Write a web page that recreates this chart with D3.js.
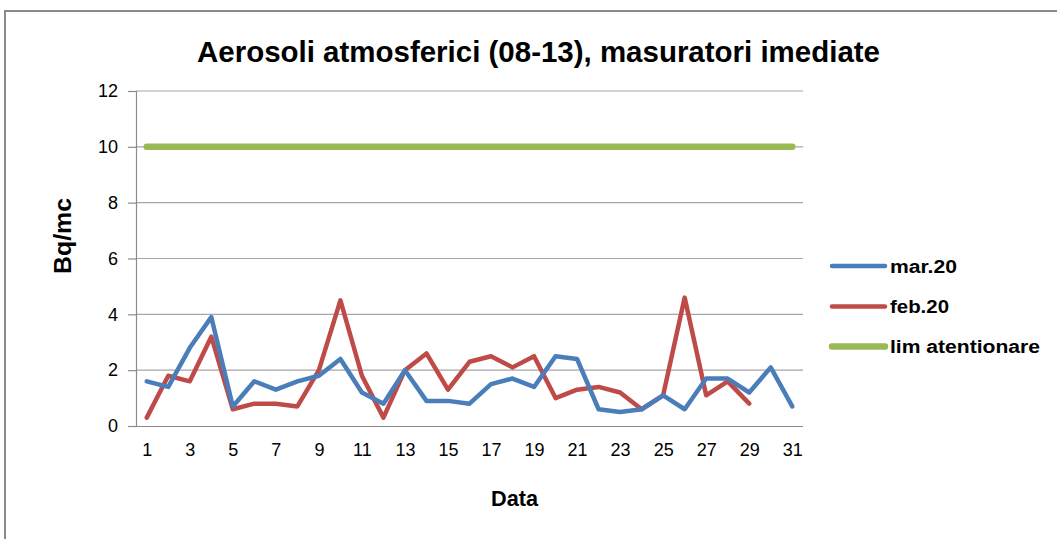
<!DOCTYPE html>
<html>
<head>
<meta charset="utf-8">
<script src="https://cdn.jsdelivr.net/npm/d3@7"></script>
<style>
  html, body { margin: 0; padding: 0; background: #fff; }
  svg { display: block; font-family: "Liberation Sans", Arial, sans-serif; }
</style>
</head>
<body>
<svg id="chart" width="1057" height="539"></svg>
<script>
const categories = d3.range(1, 32);
const tickLabels = [1,3,5,7,9,11,13,15,17,19,21,23,25,27,29,31];
const yTicks = [0,2,4,6,8,10,12];
const mar20 = [1.6,1.4,2.8,3.9,0.7,1.6,1.3,1.6,1.8,2.4,1.2,0.8,2.0,0.9,0.9,0.8,1.5,1.7,1.4,2.5,2.4,0.6,0.5,0.6,1.1,0.6,1.7,1.7,1.2,2.1,0.7];
const feb20 = [0.3,1.8,1.6,3.2,0.6,0.8,0.8,0.7,2.0,4.5,1.8,0.3,2.0,2.6,1.3,2.3,2.5,2.1,2.5,1.0,1.3,1.4,1.2,0.6,1.1,4.6,1.1,1.6,0.8];
const limAtentionare = categories.map(() => 10);
const seriesNames = ["mar.20", "feb.20", "lim atentionare"];
const seriesColors = ["#4a7ebb", "#be4b48", "#98b954"];

(function () {
const svg = d3.select("#chart");

// outer border
svg.append("rect").attr("x", 5).attr("y", 11).attr("width", 1070).attr("height", 560)
  .attr("fill", "none").attr("stroke", "#8a8a8a").attr("stroke-width", 2);

const pLeft = 136, pRight = 803, pTop = 91, pBottom = 426;
const x = d3.scalePoint().domain(categories).range([pLeft, pRight]).padding(0.5);
const y = d3.scaleLinear().domain([0, 12]).range([pBottom, pTop]);

// gridlines
svg.append("g").selectAll("line").data(yTicks.filter(d => d > 0)).join("line")
  .attr("x1", pLeft).attr("x2", pRight)
  .attr("y1", d => y(d)).attr("y2", d => y(d))
  .attr("stroke", "#a6a6a6").attr("stroke-width", 1.2);

// y axis
const yAxis = svg.append("g").attr("transform", `translate(${pLeft},0)`)
  .call(d3.axisLeft(y).tickValues(yTicks).tickSize(8).tickPadding(10).tickFormat(d3.format("d")));
yAxis.select(".domain").attr("stroke", "#8c8c8c").attr("stroke-width", 1.2);
yAxis.selectAll(".tick line").attr("stroke", "#8c8c8c").attr("stroke-width", 1.2);
yAxis.selectAll("text").attr("font-size", 18).attr("fill", "#000")
  .attr("font-family", "'Liberation Sans', Arial, sans-serif");

// x axis
const xAxis = svg.append("g").attr("transform", `translate(0,${pBottom})`)
  .call(d3.axisBottom(x).tickValues(tickLabels).tickSize(0).tickPadding(17));
xAxis.select(".domain").attr("d", `M${pLeft - 8},0.5H${pRight}`).attr("stroke", "#8c8c8c").attr("stroke-width", 1.2);
xAxis.selectAll("text").attr("font-size", 18).attr("fill", "#000")
  .attr("font-family", "'Liberation Sans', Arial, sans-serif");

// lines
const line = d3.line().x((d, i) => x(categories[i])).y(d => y(d));
const allSeries = [mar20, feb20, limAtentionare];
const widths = [4.5, 4.5, 6.5];
[2, 1, 0].forEach(k => {
  svg.append("path").datum(allSeries[k])
    .attr("d", line)
    .attr("fill", "none")
    .attr("stroke", seriesColors[k])
    .attr("stroke-width", widths[k])
    .attr("stroke-linejoin", "round")
    .attr("stroke-linecap", "round");
});

// title
svg.append("text").attr("x", 197).attr("y", 62)
  .attr("font-size", 30).attr("font-weight", "bold").attr("fill", "#000")
  .attr("textLength", 683).attr("lengthAdjust", "spacingAndGlyphs")
  .text("Aerosoli atmosferici (08-13), masuratori imediate");

// axis titles
svg.append("text").attr("x", 491).attr("y", 506)
  .attr("font-size", 22).attr("font-weight", "bold")
  .attr("textLength", 47).attr("lengthAdjust", "spacingAndGlyphs").text("Data");
svg.append("text").attr("transform", "translate(71,274) rotate(-90)")
  .attr("font-size", 23).attr("font-weight", "bold")
  .attr("textLength", 76).attr("lengthAdjust", "spacingAndGlyphs").text("Bq/mc");

// legend
const legendY = [266, 306.5, 346.5];
const legendW = [67, 59, 150];
const lg = svg.append("g");
seriesNames.forEach((name, i) => {
  lg.append("line").attr("x1", 832).attr("x2", 885).attr("y1", legendY[i]).attr("y2", legendY[i])
    .attr("stroke", seriesColors[i]).attr("stroke-width", widths[i]).attr("stroke-linecap", "round");
  lg.append("text").attr("x", 890).attr("y", legendY[i] + 6.5)
    .attr("font-size", 18).attr("font-weight", "bold").attr("fill", "#000")
    .attr("textLength", legendW[i]).attr("lengthAdjust", "spacingAndGlyphs").text(name);
});
})();
</script>
</body>
</html>
